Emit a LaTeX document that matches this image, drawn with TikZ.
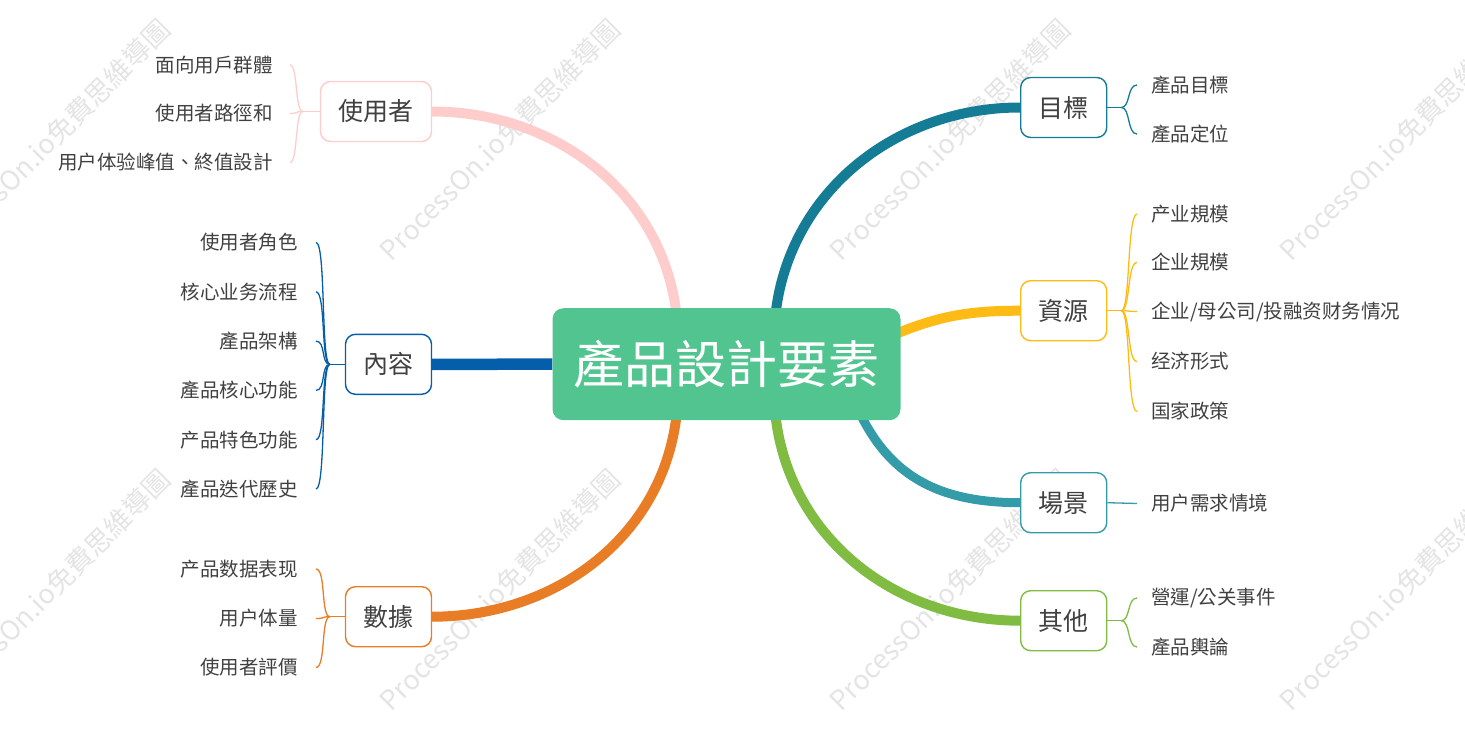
\documentclass[tikz,border=0pt]{standalone}
\usepackage{fontspec}
\setmainfont{Noto Sans CJK TC}
\usetikzlibrary{calc,backgrounds}
\definecolor{cpink}{RGB}{255,204,204}
\definecolor{cblue}{RGB}{5,94,170}
\definecolor{corange}{RGB}{232,125,37}
\definecolor{cteal}{RGB}{20,124,149}
\definecolor{cyellow}{RGB}{254,187,22}
\definecolor{cteals}{RGB}{52,155,168}
\definecolor{cgreen}{RGB}{128,188,66}
\definecolor{cmain}{RGB}{82,196,143}
\definecolor{ctext}{RGB}{64,64,64}
\definecolor{cwm}{RGB}{228,228,228}
\begin{document}
\begin{tikzpicture}[x=1pt,y=-1pt,
  mainbox/.style={fill=cmain, rounded corners=11pt, minimum width=348pt, minimum height=112pt, inner sep=0pt, text=white, font=\fontsize{51}{51}\selectfont},
  branch/.style={draw=#1, line width=1.4pt, rounded corners=10pt, fill=white, minimum height=60pt, inner xsep=18pt, inner ysep=0pt, text=ctext, font=\fontsize{25}{25}\selectfont},
  leaf/.style={inner sep=0pt, text=ctext, font=\fontsize{19.5}{19.5}\selectfont},
  trunk/.style={draw=#1, line width=10pt},
  twig/.style={draw=#1, line width=1.3pt},
  wm/.style={text=cwm, font=\fontsize{27}{27}\selectfont, rotate=45, inner sep=0pt}]
\useasboundingbox (0,0) rectangle (1465,744);

% nodes
\node[mainbox] (c) at (726.5,364.2) {產品設計要素};
\node[branch=cpink, minimum width=111pt] (u) at (376,111.5) {使用者};
\node[branch=cblue, minimum width=85pt] (n) at (388.5,364.3) {內容};
\node[branch=corange, minimum width=85pt] (d) at (388.5,616.7) {數據};
\node[branch=cteal, minimum width=86pt] (g) at (1063.7,107.5) {目標};
\node[branch=cyellow, minimum width=86pt] (r) at (1063.7,310.7) {資源};
\node[branch=cteals, minimum width=86pt] (s) at (1063.7,502.7) {場景};
\node[branch=cgreen, minimum width=86pt] (o) at (1063.7,620.7) {其他};

% watermarks and trunks
\begin{scope}[on background layer]
  \begin{scope}
    \clip (0,0) rectangle (1465,744);
    \foreach \wx in {50,500,950,1400} {
      \foreach \wy in {140,590} {
        \node[wm] (w\wx\wy) at (\wx,\wy) {ProcessOn.io免費思維導圖};
      }
    }
  \end{scope}
  \coordinate (cu) at (678,335);
  \coordinate (cd) at (678,395);
  \coordinate (cg) at (774,335);
  \coordinate (co) at (774,395);
  \coordinate (cr) at (870,345);
  \coordinate (cs) at (850,390);
  \draw[trunk=cpink] (cu) .. controls (674,200) and (560,111.5) .. (u.east);
  \draw[trunk=cblue, line width=11.5pt] (c.west) -- (n.east);
  \draw[trunk=corange] (cd) .. controls (674,530) and (560,616.7) .. (d.east);
  \draw[trunk=cteal] (cg) .. controls (778,200) and (890,107.5) .. (g.west);
  \draw[trunk=cyellow] (cr) .. controls (930,318) and (960,310.7) .. (r.west);
  \draw[trunk=cteals, line width=9pt] (cs) .. controls (880,470) and (930,502.7) .. (s.west);
  \draw[trunk=cgreen] (co) .. controls (778,530) and (890,620.7) .. (o.west);
\end{scope}

% 使用者
\coordinate (uj) at ($(u.west)+(-17,0)$);
\draw[twig=cpink] (u.west) -- (uj);
\node[leaf, anchor=east] (u1) at (273,65) {面向用戶群體};
\node[leaf, anchor=east] (u2) at (273,113.5) {使用者路徑和};
\node[leaf, anchor=east] (u3) at (273,162.5) {用户体验峰值、終值設計};
\foreach \k in {u1,u2,u3} {
  \draw[twig=cpink] (uj) .. controls ($(uj)+(-8,0)$) and ($(\k.east)+(25,0)$) .. ($(\k.east)+(17,0)$);
}

% 內容
\coordinate (nj) at ($(n.west)+(-15,0)$);
\draw[twig=cblue] (n.west) -- (nj);
\node[leaf, anchor=east] (n1) at (298,242.5) {使用者角色};
\node[leaf, anchor=east] (n2) at (298,291.8) {核心业务流程};
\node[leaf, anchor=east] (n3) at (298,341.1) {產品架構};
\node[leaf, anchor=east] (n4) at (298,390.4) {產品核心功能};
\node[leaf, anchor=east] (n5) at (298,439.7) {产品特色功能};
\node[leaf, anchor=east] (n6) at (298,489) {產品迭代歷史};
\foreach \k in {n1,n2,n3,n4,n5,n6} {
  \draw[twig=cblue] (nj) .. controls ($(nj)+(-9,0)$) and ($(\k.east)+(28,0)$) .. ($(\k.east)+(18,0)$);
}

% 數據
\coordinate (dj) at ($(d.west)+(-15,0)$);
\draw[twig=corange] (d.west) -- (dj);
\node[leaf, anchor=east] (d1) at (298,569) {产品数据表现};
\node[leaf, anchor=east] (d2) at (298,618.5) {用户体量};
\node[leaf, anchor=east] (d3) at (298,667.5) {使用者評價};
\foreach \k in {d1,d2,d3} {
  \draw[twig=corange] (dj) .. controls ($(dj)+(-9,0)$) and ($(\k.east)+(28,0)$) .. ($(\k.east)+(18,0)$);
}

% 目標
\coordinate (gj) at ($(g.east)+(14,0)$);
\draw[twig=cteal] (g.east) -- (gj);
\node[leaf, anchor=west] (g1) at (1151,85) {產品目標};
\node[leaf, anchor=west] (g2) at (1151,134) {產品定位};
\foreach \k in {g1,g2} {
  \draw[twig=cteal] (gj) .. controls ($(gj)+(9,0)$) and ($(\k.west)+(-24,0)$) .. ($(\k.west)+(-14,0)$);
}

% 資源
\coordinate (rj) at ($(r.east)+(14,0)$);
\draw[twig=cyellow] (r.east) -- (rj);
\node[leaf, anchor=west] (r1) at (1151,214) {产业規模};
\node[leaf, anchor=west] (r2) at (1151,262.5) {企业規模};
\node[leaf, anchor=west] (r3) at (1151,311.5) {企业/母公司/投融资财务情况};
\node[leaf, anchor=west] (r4) at (1151,361.5) {经济形式};
\node[leaf, anchor=west] (r5) at (1151,411.5) {国家政策};
\foreach \k in {r1,r2,r3,r4,r5} {
  \draw[twig=cyellow] (rj) .. controls ($(rj)+(9,0)$) and ($(\k.west)+(-24,0)$) .. ($(\k.west)+(-14,0)$);
}

% 場景
\node[leaf, anchor=west] (s1) at (1151,503.5) {用户需求情境};
\draw[twig=cteals] (s.east) -- ($(s1.west)+(-14,0)$);

% 其他
\coordinate (oj) at ($(o.east)+(14,0)$);
\draw[twig=cgreen] (o.east) -- (oj);
\node[leaf, anchor=west] (o1) at (1151,598) {營運/公关事件};
\node[leaf, anchor=west] (o2) at (1151,647) {產品輿論};
\foreach \k in {o1,o2} {
  \draw[twig=cgreen] (oj) .. controls ($(oj)+(9,0)$) and ($(\k.west)+(-24,0)$) .. ($(\k.west)+(-14,0)$);
}
\end{tikzpicture}
\end{document}
